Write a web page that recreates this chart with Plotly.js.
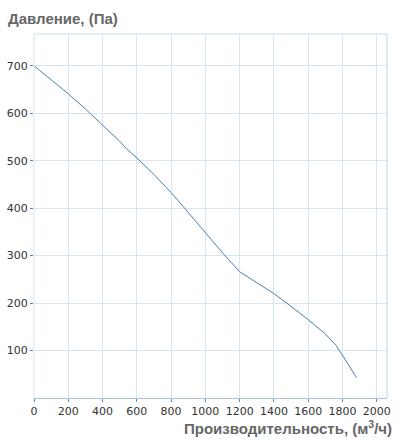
<!DOCTYPE html>
<html>
<head>
<meta charset="utf-8">
<script src="https://cdn.plot.ly/plotly-3.0.1.min.js"></script>
<style>html,body{margin:0;padding:0;background:#fff;}#chart{width:404px;height:443px;}</style>
</head>
<body>
<div id="chart"></div>
<script>
const flowValues = [0, 100, 200, 300, 400, 500, 540, 600, 700, 800, 900, 1000, 1100, 1200, 1300, 1400, 1500, 1600, 1700, 1763, 1882];
const pressureValues = [700, 671, 641, 609, 576, 541, 525, 506, 471, 433, 391, 348, 306, 266, 243, 220, 193, 165, 135, 111, 43];
const xTickValues = [0, 200, 400, 600, 800, 1000, 1200, 1400, 1600, 1800, 2000];
const yTickValues = [100, 200, 300, 400, 500, 600, 700];
const yAxisTitle = 'Давление, (Па)';
const xAxisTitle = 'Производительность, (м<sup>3</sup>/ч)';

const trace = {
  x: flowValues,
  y: pressureValues,
  type: 'scatter',
  mode: 'lines',
  line: {color: '#4a7eb5', width: 1},
  hoverinfo: 'skip'
};

const tickFont = {family: 'DejaVu Sans', size: 11, color: '#333'};
const titleFont = {family: 'Liberation Sans', size: 15, color: '#666', weight: 'bold'};

const layout = {
  width: 404,
  height: 443,
  margin: {l: 34, r: 17, t: 34, b: 45},
  paper_bgcolor: '#fff',
  plot_bgcolor: '#fff',
  showlegend: false,
  title: {
    text: yAxisTitle,
    xref: 'container', yref: 'container',
    x: 8/404, xanchor: 'left',
    y: 1 - 19/443, yanchor: 'middle',
    font: titleFont
  },
  xaxis: {
    range: [0, 2060],
    tickvals: xTickValues,
    ticktext: xTickValues.map(String),
    tickfont: tickFont,
    showgrid: true,
    gridcolor: '#d9e6ef',
    gridwidth: 1,
    zeroline: false,
    showline: true,
    linecolor: '#a9c1d9',
    linewidth: 1,
    ticks: 'outside',
    ticklen: 3,
    tickcolor: '#5b86b5',
    mirror: false,
    fixedrange: true
  },
  yaxis: {
    range: [0, 767],
    tickvals: yTickValues,
    ticktext: yTickValues.map(String),
    tickfont: tickFont,
    showgrid: true,
    gridcolor: '#d9e6ef',
    gridwidth: 1,
    zeroline: false,
    showline: false,
    ticks: 'outside',
    ticklen: 3,
    tickcolor: '#5b86b5',
    fixedrange: true
  },
  shapes: [
    {type: 'line', xref: 'paper', yref: 'paper', x0: 0, x1: 1, y0: 1, y1: 1, line: {color: '#cfdde8', width: 1}},
    {type: 'line', xref: 'paper', yref: 'paper', x0: 1, x1: 1, y0: 0, y1: 1, line: {color: '#c2d3e2', width: 1}},
    {type: 'line', xref: 'paper', yref: 'paper', x0: 0, x1: 0, y0: 0, y1: 1, line: {color: '#d9e6ef', width: 1}}
  ],
  annotations: [
    {
      text: xAxisTitle,
      xref: 'paper', yref: 'paper',
      x: 1, y: 0,
      xanchor: 'right', yanchor: 'middle',
      xshift: 7, yshift: -29,
      showarrow: false,
      font: titleFont
    }
  ]
};

Plotly.newPlot('chart', [trace], layout, {displayModeBar: false, staticPlot: true});
</script>
</body>
</html>
